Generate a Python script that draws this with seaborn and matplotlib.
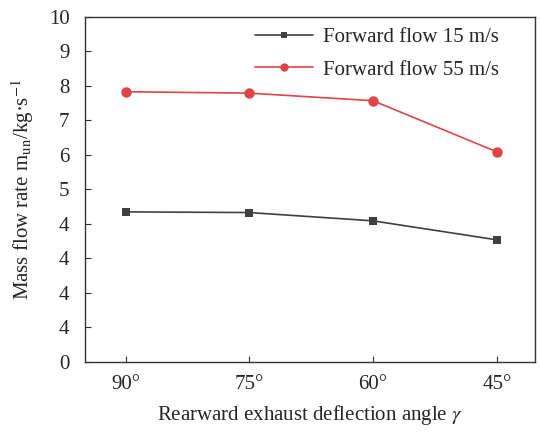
import matplotlib
matplotlib.use("Agg")
import matplotlib.pyplot as plt
import seaborn as sns
import pandas as pd

angles = ["90°", "75°", "60°", "45°"]
flow_15 = [4.35, 4.33, 4.09, 3.54]
flow_55 = [7.83, 7.79, 7.57, 6.09]
series_names = ["Forward flow 15 m/s", "Forward flow 55 m/s"]
ytick_vals = [0, 1, 2, 3, 4, 5, 6, 7, 8, 9, 10]
ytick_labels = ["0", "4", "4", "4", "4", "5", "6", "7", "8", "9", "10"]

sns.set_style("ticks")
plt.rcParams['font.family'] = ['Liberation Serif', 'DejaVu Serif']
plt.rcParams['mathtext.fontset'] = 'stix'
plt.rcParams['xtick.direction'] = 'in'
plt.rcParams['ytick.direction'] = 'in'

df = pd.DataFrame({
    "x": list(range(len(angles))) * 2,
    "y": flow_15 + flow_55,
    "series": [series_names[0]] * len(angles) + [series_names[1]] * len(angles),
})

fig = plt.figure(figsize=(5.4, 4.32), dpi=100)
ax = fig.add_axes([0.157, 0.162, 0.834, 0.799])
sns.lineplot(data=df, x="x", y="y", hue="series", style="series",
             markers=["s", "o"], dashes=False,
             palette=["#404040", "#e04444"], markersize=7, linewidth=1.2,
             markeredgewidth=0, ax=ax)
for ln, ms in zip(ax.get_lines()[:2], [6, 7.5]):
    ln.set_markersize(ms)

ax.set_xlim(-0.33, 3.31)
ax.set_ylim(0, 10)
ax.set_xticks(range(len(angles)))
ax.set_xticklabels(angles, fontsize=15)
ax.set_yticks(ytick_vals)
ax.set_yticklabels(ytick_labels, fontsize=15)
ax.tick_params(axis='x', length=4, width=0.8, color='#333333', pad=9)
ax.tick_params(axis='y', length=4, width=0.8, color='#333333', pad=11)
for s in ax.spines.values():
    s.set_visible(True)
    s.set_color('#333333')
    s.set_linewidth(1.0)

ax.set_xlabel(r"Rearward exhaust deflection angle $\gamma$", fontsize=15, labelpad=7)
ax.set_ylabel(r"Mass flow rate m$_{\mathrm{un}}$/kg·s$^{-1}$", fontsize=15, labelpad=9)

leg = ax.legend(loc="upper left", frameon=False, fontsize=15,
                handlelength=2.8, handletextpad=0.45, labelspacing=0.6,
                borderpad=0, borderaxespad=0,
                bbox_to_anchor=(0.378, 0.968))
leg.set_title(None)
for h, ms in zip(leg.legend_handles, [4.5, 6]):
    h.set_markersize(ms)

fig.savefig("out.png", dpi=100)
